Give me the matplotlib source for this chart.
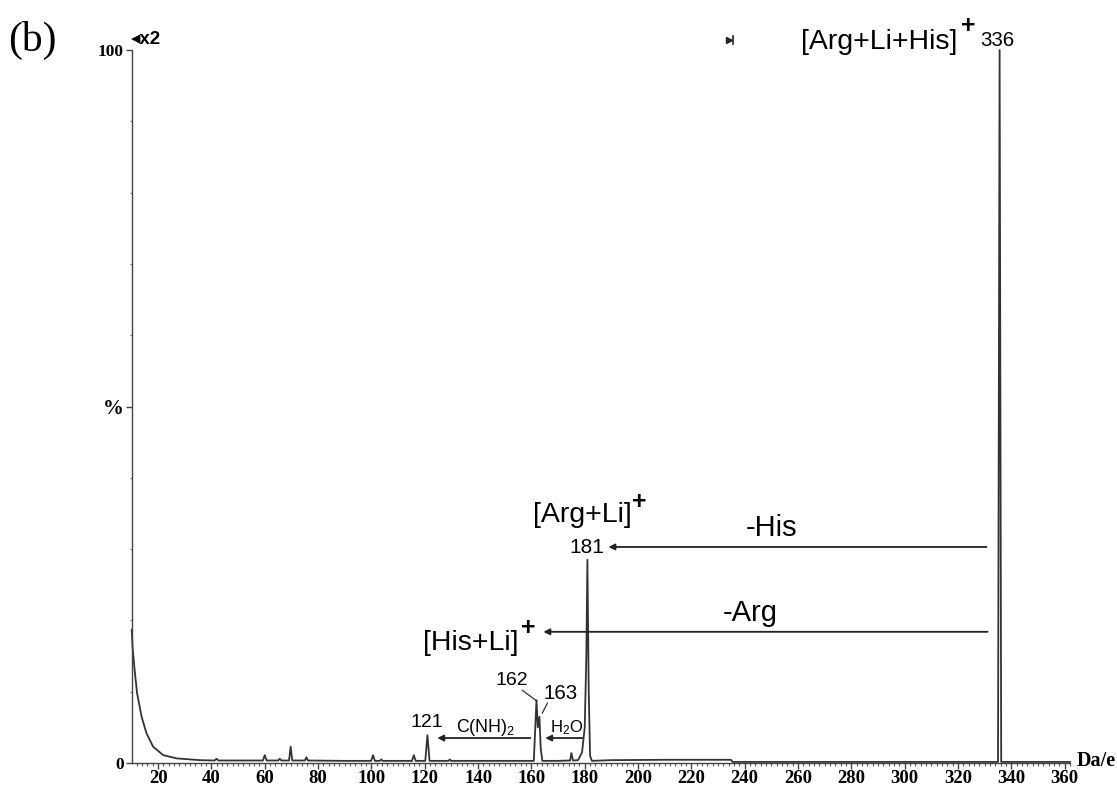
import matplotlib
matplotlib.use("Agg")
import matplotlib.pyplot as plt
from matplotlib.ticker import FixedLocator, MultipleLocator, FixedFormatter
from matplotlib.lines import Line2D

plt.rcParams['mathtext.fontset'] = 'custom'
plt.rcParams['mathtext.rm'] = 'Liberation Sans'
plt.rcParams['mathtext.it'] = 'Liberation Sans'

# ---- spectrum trace (m/z, relative intensity %) ----
mz = [10.1, 10.4, 11.2, 12.1, 13.8, 15.6, 18.1, 21.9, 26.9, 35.6,
      41.2, 41.9, 42.6, 50.0, 59.3, 60.0, 60.7, 65.0, 65.6, 66.2,
      69.1, 69.7, 70.3, 75.0, 75.6, 76.2, 90.0, 99.9, 100.6, 101.3,
      103.2, 103.7, 104.2, 110.0, 115.2, 115.9, 116.6, 120.2, 121.0, 121.8,
      128.9, 129.4, 129.9, 145.0, 160.9, 161.9, 162.4, 163.0, 163.5, 164.1,
      170.0, 174.5, 175.0, 175.6, 177.5, 179.0, 180.0, 180.6, 181.0, 181.5,
      182.0, 182.7, 190.0, 210.0, 234.8, 235.5, 260.0, 300.0, 335.0, 335.6,
      336.2, 350.0, 362.0]
intensity = [18.7, 16.3, 13.0, 9.8, 6.5, 4.2, 2.3, 1.1, 0.65, 0.4,
             0.35, 0.6, 0.35, 0.35, 0.35, 1.1, 0.35, 0.35, 0.6, 0.35,
             0.35, 2.3, 0.35, 0.35, 0.8, 0.35, 0.3, 0.3, 1.1, 0.3,
             0.3, 0.5, 0.3, 0.3, 0.3, 1.1, 0.3, 0.3, 3.9, 0.3,
             0.3, 0.5, 0.3, 0.3, 0.3, 8.8, 5.0, 6.5, 2.0, 0.3,
             0.3, 0.35, 1.4, 0.35, 0.4, 1.5, 5.0, 15.0, 28.5, 10.0,
             1.0, 0.3, 0.4, 0.45, 0.45, 0.15, 0.15, 0.15, 0.15, 100.0,
             0.15, 0.15, 0.15]

x_major = [20, 40, 60, 80, 100, 120, 140, 160, 180, 200, 220, 240, 260, 280, 300, 320, 340, 360]
x_labels = [str(v) for v in x_major]
y_major = [0, 50, 100]
y_labels = ['0', '%', '100']

W, H = 1117, 789
fig = plt.figure(figsize=(W / 100, H / 100), dpi=100)
ax = fig.add_axes([132 / W, 26 / H, (1070 - 132) / W, (763 - 50) / H])

ax.plot(mz, intensity, color='#333333', lw=1.3, clip_on=False)
ax.set_xlim(10.2, 362.0)
ax.set_ylim(0, 100)

for s in ['top', 'right']:
    ax.spines[s].set_visible(False)
for s in ['left', 'bottom']:
    ax.spines[s].set_color('#444444')
    ax.spines[s].set_linewidth(1.0)

ax.xaxis.set_major_locator(FixedLocator(x_major))
ax.xaxis.set_major_formatter(FixedFormatter(x_labels))
ax.xaxis.set_minor_locator(MultipleLocator(2))
ax.yaxis.set_major_locator(FixedLocator(y_major))
ax.yaxis.set_major_formatter(FixedFormatter(y_labels))
ax.yaxis.set_minor_locator(MultipleLocator(10))
ax.tick_params(axis='x', which='major', direction='out', length=4, width=1, color='#444444', pad=1.0)
ax.tick_params(axis='x', which='minor', direction='out', length=2.5, width=0.8, color='#555555')
ax.tick_params(axis='y', which='major', direction='out', length=4, width=1, color='#444444', pad=2)
ax.tick_params(axis='y', which='minor', direction='out', length=1.5, width=0.8, color='#666666')
FP = matplotlib.font_manager.FontProperties
for lab in ax.get_xticklabels():
    lab.set_fontproperties(FP(family='Liberation Serif', weight='bold', size=13.5))
for lab in ax.get_yticklabels():
    size = 15 if lab.get_text() == '%' else 12.5
    lab.set_fontproperties(FP(family='Liberation Serif', weight='bold', size=size))

sans = 'Liberation Sans'
# ---- annotations ----
ax.text(319.8, 101.1, '[Arg+Li+His]', fontsize=20.5, family=sans, ha='right', va='center', clip_on=False)
ax.text(323.8, 103.3, '+', fontsize=18, family=sans, ha='center', va='center', weight='bold', clip_on=False)
ax.text(334.8, 101.4, '336', fontsize=14.8, family=sans, ha='center', va='center', clip_on=False)

ax.text(179.3, 34.8, '[Arg+Li]', fontsize=20.5, family=sans, ha='center', va='center')
ax.text(200.5, 36.6, '+', fontsize=18, family=sans, ha='center', va='center', weight='bold')
ax.text(180.9, 30.2, '181', fontsize=15, family=sans, ha='center', va='center')
ax.text(250.0, 33.0, '-His', fontsize=21, family=sans, ha='center', va='center')
ax.text(242.0, 21.0, '-Arg', fontsize=21, family=sans, ha='center', va='center')
ax.text(155.1, 16.8, '[His+Li]', fontsize=20.5, family=sans, ha='right', va='center')
ax.text(159.0, 19.0, '+', fontsize=18, family=sans, ha='center', va='center', weight='bold')
ax.text(152.8, 11.6, '162', fontsize=14, family=sans, ha='center', va='center')
ax.text(170.9, 9.7, '163', fontsize=14.8, family=sans, ha='center', va='center')
ax.text(120.9, 5.75, '121', fontsize=14, family=sans, ha='center', va='center')
ax.text(143.0, 5.0, r'C(NH)$_\mathregular{2}$', fontsize=12.9, family=sans, ha='center', va='center')
ax.text(173.1, 5.0, r'H$_\mathregular{2}$O', fontsize=12, family=sans, ha='center', va='center')

ax.plot([156.6, 162.0], [10.2, 8.7], color='#333333', lw=0.9)
ax.plot([166.0, 164.1], [8.4, 7.0], color='#333333', lw=0.9)

arrow_kw = dict(arrowstyle='-|>', color='#222222', lw=1.3, mutation_scale=9, shrinkA=0, shrinkB=0)
ax.annotate('', xy=(188.9, 30.3), xytext=(330.7, 30.3), arrowprops=arrow_kw)
ax.annotate('', xy=(164.5, 18.4), xytext=(331.1, 18.4), arrowprops=arrow_kw)
ax.annotate('', xy=(124.7, 3.5), xytext=(159.6, 3.5), arrowprops=arrow_kw)
ax.annotate('', xy=(165.2, 3.5), xytext=(179.1, 3.5), arrowprops=arrow_kw)

# ---- figure-level texts ----
fig.text(8 / W, 1 - 40 / H, '(b)', fontsize=30, family='Liberation Serif', ha='left', va='center')
fig.text(131 / W, 1 - 40 / H, '◂x2', fontsize=13.5, family=['Liberation Sans', 'DejaVu Sans'], weight='bold',
         ha='left', va='center')
fig.text(1077 / W, 1 - 761 / H, 'Da/e', fontsize=14.5, family='Liberation Serif', weight='bold',
         ha='left', va='center')
fig.add_artist(Line2D([729 / W], [1 - 40 / H], marker='>', markersize=5, color='#222222',
                      transform=fig.transFigure))
fig.add_artist(Line2D([732.5 / W, 732.5 / W], [1 - 36 / H, 1 - 44 / H], color='#222222', lw=1.2,
                      transform=fig.transFigure))

fig.savefig('out.png', dpi=100)
